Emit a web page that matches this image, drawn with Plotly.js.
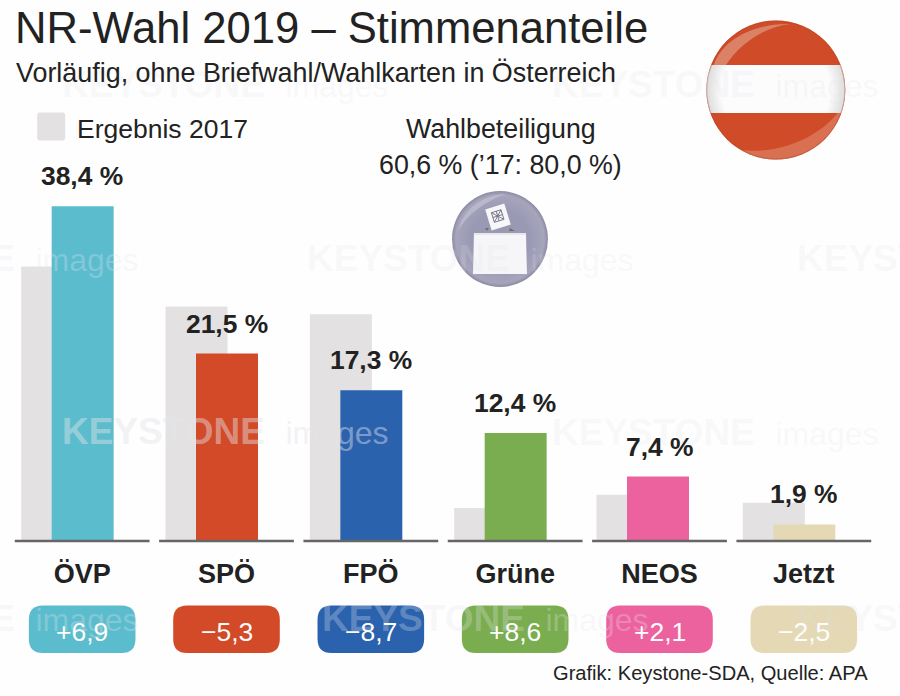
<!DOCTYPE html>
<html>
<head>
<meta charset="utf-8">
<script src="https://cdn.plot.ly/plotly-3.0.1.min.js"></script>
<style>html,body{margin:0;padding:0;background:#fefefe}#chart{width:900px;height:696px}</style>
</head>
<body>
<div id="chart"></div>
<script>
const parties = ['ÖVP','SPÖ','FPÖ','Grüne','NEOS','Jetzt'];
const result2019 = [38.4,21.5,17.3,12.4,7.4,1.9];
const result2017 = [31.5,26.9,26.0,3.8,5.3,4.4];
const changeLabels = ['+6,9','−5,3','−8,7','+8,6','+2,1','−2,5'];
const valueLabels = ['38,4 %','21,5 %','17,3 %','12,4 %','7,4 %','1,9 %'];
const partyColors = ['#5bbccd','#d24a27','#2a62ad','#7aad4f','#ec629f','#e4d9b4'];
const grey2017 = '#e3e1e1';
const FONT = '"Liberation Sans", Arial, sans-serif';
const INK = '#222222';

const W = 900, H = 696;
const STEP = 144.4;
const m = {l: 82 - STEP/2, r: W - (82 + 5.5*STEP), t: 18, b: 155};
const px = x => (x - m.l) / (W - m.l - m.r);
const py = y => (H - m.b - y) / (H - m.t - m.b);

const nudge = [0,0,0,0,-2,0];
const traces = [
  {type:'bar', x:parties, y:result2017, name:'Ergebnis 2017', marker:{color:grey2017},
   offset:nudge.map(n => (-61+n)/STEP), width:62/STEP, hoverinfo:'y+name'},
  {type:'bar', x:parties, y:result2019, name:'2019', marker:{color:partyColors},
   offset:nudge.map(n => (-30.5+n)/STEP), width:62/STEP, hoverinfo:'y+name'}
];

const txt = (text, x, y, size, opts={}) => Object.assign({
  text, xref:'paper', yref:'paper', x:px(x), y:py(y), xanchor:'center', yanchor:'middle',
  showarrow:false, font:{family:FONT, size, color:INK}
}, opts);

const shapes = [];
const annotations = [];

// watermarks
const wmColor = 'rgba(232,232,238,0.28)';
const wmStrong = 'rgba(228,228,234,0.45)';
const wmFaint = 'rgba(225,225,232,0.2)';
const wmSpots = [[60,431,wmStrong],[305,258,wmFaint],[550,85,wmFaint],[60,85,wmFaint],[550,432,wmFaint],
                 [-190,258,wmColor],[795,258,wmFaint],[-190,618,wmColor],[320,618,wmColor],[795,618,wmFaint]];
wmSpots.forEach(([x,y,c]) => annotations.push(txt(
  '<b>KEYSTONE</b>\u00a0\u00a0<span style="font-size:32px">images</span>', x, y, 37,
  {xanchor:'left', font:{family:FONT, size:37, color:c}})));

// baselines
parties.forEach((p,i) => shapes.push({type:'line', layer:'above', xref:'x', yref:'paper',
  x0:i-0.467, x1:i+0.467, y0:0, y1:0, line:{color:'#666666', width:2.5}}));

// pills
const pillPath = (w,h,r) => {
  const a=w/2,b=h/2;
  return `M${-a+r},${-b} L${a-r},${-b} Q${a},${-b} ${a},${-b+r} L${a},${b-r} Q${a},${b} ${a-r},${b} L${-a+r},${b} Q${-a},${b} ${-a},${b-r} L${-a},${-b+r} Q${-a},${-b} ${-a+r},${-b} Z`;
};
parties.forEach((p,i) => {
  shapes.push({type:'path', layer:'above', xref:'x', yref:'paper', xsizemode:'pixel', ysizemode:'pixel',
    xanchor:i, yanchor:py(629.3), path:pillPath(106.6,47.5,14), fillcolor:partyColors[i], line:{width:0}});
  annotations.push({text:changeLabels[i], xref:'x', yref:'paper', x:i, y:py(632), xanchor:'center', yanchor:'middle',
    showarrow:false, font:{family:FONT, size:26.5, color:'#fdfdfd'}});
  annotations.push({text:'<b>'+valueLabels[i]+'</b>', xref:'x', yref:'y', x:i, y:result2019[i], xanchor:'center', yanchor:'middle',
    yshift:30, showarrow:false, font:{family:FONT, size:26.4, color:INK}});
});

// legend swatch + texts
shapes.push({type:'path', layer:'above', xref:'paper', yref:'paper', xsizemode:'pixel', ysizemode:'pixel',
  xanchor:px(51), yanchor:py(126.5), path:pillPath(28,28,3), fillcolor:grey2017, line:{width:0}});
annotations.push(txt('Ergebnis 2017', 75, 129, 26.5, {xanchor:'left'}));
annotations.push(txt('Wahlbeteiligung', 501, 129, 26.8));
annotations.push(txt("60,6 % (’17: 80,0 %)", 501, 165, 26.8));
annotations.push(txt('Vorläufig, ohne Briefwahl/Wahlkarten in Österreich', 14, 73, 26.9, {xanchor:'left'}));
annotations.push(txt('Grafik: Keystone-SDA, Quelle: APA', 870, 673, 20.1, {xanchor:'right'}));

// emblems
const flagSvg = `<svg xmlns="http://www.w3.org/2000/svg" width="300" height="300" viewBox="-75 -75 150 150">
<defs>
<clipPath id="c"><circle r="69.5"/></clipPath>
<radialGradient id="w" gradientUnits="userSpaceOnUse" cx="0" cy="0" r="69.5"><stop offset="0.78" stop-color="#fcfcfc"/><stop offset="1" stop-color="#dcdcdc"/></radialGradient>
</defs>
<circle r="69.5" fill="#d04b28"/>
<g clip-path="url(#c)">
<path d="M-62,-25 C-54,-50 -22,-67 14,-66 C-14,-62 -36,-46 -50,-25 Z" fill="#e09a80" opacity="0.7"/>
<path d="M-36,60 C-6,64 36,54 62,23 L72,23 C60,56 20,72 -10,72 Z" fill="#de8f73" opacity="0.55"/>
<rect x="-72" y="-25" width="144" height="48" fill="url(#w)"/>
</g>
<circle r="69" fill="none" stroke="#a8442a" stroke-width="0.8" opacity="0.5"/>
</svg>`;
const ballotSvg = `<svg xmlns="http://www.w3.org/2000/svg" width="300" height="300" viewBox="-50 -50 100 100">
<defs>
<clipPath id="k"><circle r="48"/></clipPath>
<radialGradient id="g" gradientUnits="userSpaceOnUse" cx="0" cy="0" r="48"><stop offset="0.6" stop-color="#9a99b4"/><stop offset="0.92" stop-color="#a6a5bc"/><stop offset="1" stop-color="#8b8aa2"/></radialGradient>
</defs>
<circle r="48" fill="url(#g)"/>
<g clip-path="url(#k)">
<path d="M-42,-8 C-36,-32 -16,-44 6,-45 C-14,-38 -32,-26 -42,-8 Z" fill="#c6c6d6" opacity="0.6"/>
<g transform="translate(-2,-22) rotate(-17)">
<rect x="-10" y="-11" width="20" height="22" fill="#f7f7f9"/>
<g stroke="#77778a" stroke-width="0.9" fill="none">
<rect x="-5" y="-6" width="10" height="10"/><path d="M-5,-6 L5,4 M5,-6 L-5,4 M0,-6 L0,4 M-5,-1 L5,-1"/>
</g>
</g>
<path d="M-15,-11 L-11,-11 L-13,-8 Z M10,-11 L15,-8 L9,-8 Z" fill="#6f7060"/>
<path d="M-26,-6 L26,-6 L27,35 L-27,35 Z" fill="#f6f6f8"/>
<path d="M-26,-6 L26,-6 L26,-4 L-26,-4 Z" fill="#e6e6ec"/>
</g>
</svg>`;
const svgUri = s => 'data:image/svg+xml;charset=utf-8,' + encodeURIComponent(s);
const images = [
  {source:svgUri(flagSvg), xref:'paper', yref:'paper', x:px(776-75), y:py(90-75), sizex:150/(W-m.l-m.r), sizey:150/(H-m.t-m.b),
   sizing:'stretch', xanchor:'left', yanchor:'top', layer:'below'},
  {source:svgUri(ballotSvg), xref:'paper', yref:'paper', x:px(500-50), y:py(239-50), sizex:100/(W-m.l-m.r), sizey:100/(H-m.t-m.b),
   sizing:'stretch', xanchor:'left', yanchor:'top', layer:'below'}
];

const layout = {
  width:W, height:H, margin:{l:m.l, r:m.r, t:m.t, b:m.b, pad:0},
  paper_bgcolor:'#fefefe', plot_bgcolor:'rgba(0,0,0,0)',
  showlegend:false, barmode:'overlay', dragmode:false,
  title:{text:'NR-Wahl 2019 – Stimmenanteile', x:15/W, xanchor:'left', xref:'container', y:1-28/H, yanchor:'middle', yref:'container',
         font:{family:FONT, size:43.6, color:INK}},
  font:{family:FONT, color:INK},
  xaxis:{type:'category', categoryorder:'array', categoryarray:parties, range:[-0.5,5.5],
         showgrid:false, zeroline:false, showline:false, ticks:'', ticklabelstandoff:14,
         tickfont:{family:FONT, size:27, color:INK}, tickprefix:'<b>', ticksuffix:'</b>', fixedrange:true},
  yaxis:{range:[0,60], visible:false, fixedrange:true},
  shapes, annotations, images
};
Plotly.newPlot('chart', traces, layout, {displayModeBar:false, staticPlot:true});
</script>
</body>
</html>
